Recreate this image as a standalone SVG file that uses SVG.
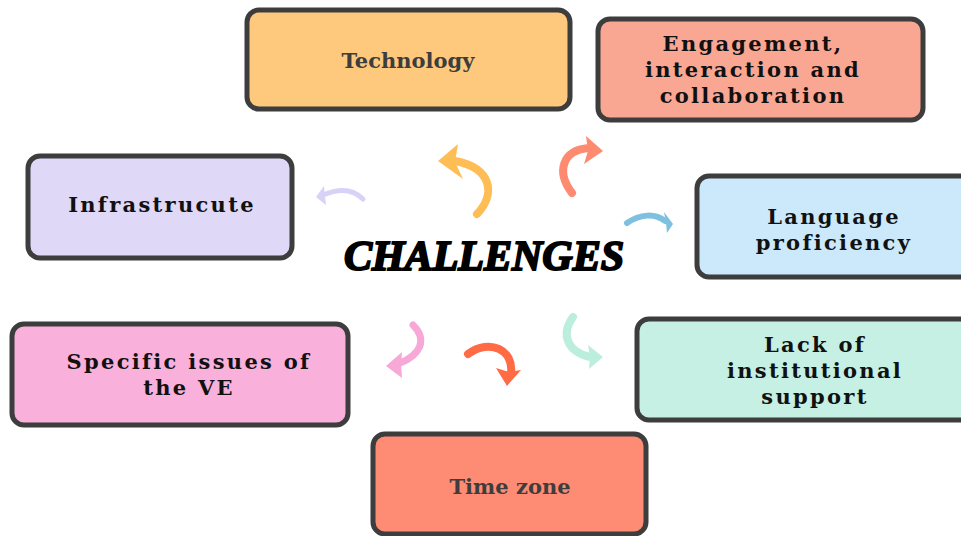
<svg xmlns="http://www.w3.org/2000/svg" width="961" height="536" viewBox="0 0 961 536">
<style>
.box{stroke:#3d3d3d;stroke-width:5}
.sp{font-family:"DejaVu Serif","Liberation Serif",serif;font-weight:bold;font-size:21px;letter-spacing:2.3px;fill:#111;text-anchor:middle}
.pl{font-family:"DejaVu Serif","Liberation Serif",serif;font-weight:bold;font-size:21px;fill:#3d3d3d;text-anchor:middle}
.body{fill:none;stroke-linecap:round}
</style>
<rect width="961" height="536" fill="#fff"/>
<g id="connectors">
  <g id="a-tech" fill="#FFBE55" stroke="#FFBE55"><path class="body" d="M477,214 C496,194 492,168 455,161" stroke-width="8"/><polygon stroke="none" points="438,161 458,144 455,162 463,179"/></g>
  <g id="a-eng" fill="#FE8A70" stroke="#FE8A70"><path class="body" d="M572,193 C556,172 562,150 589,148" stroke-width="8"/><polygon stroke="none" points="603,151 586,136 588,151 584,164"/></g>
  <g id="a-infra" fill="#D8D2F7" stroke="#D8D2F7"><path class="body" d="M363,199 C352,188 337,189 323,195" stroke-width="5"/><polygon stroke="none" points="316,197 324,186 325,196 326,205"/></g>
  <g id="a-lang" fill="#7EC0E0" stroke="#7EC0E0"><path class="body" d="M627,223 C640,214 655,213 665,221" stroke-width="6"/><polygon stroke="none" points="673,224 664,212 666,223 667,233"/></g>
  <g id="a-spec" fill="#F7A8D6" stroke="#F7A8D6"><path class="body" d="M413,325 C428,340 420,355 400,363" stroke-width="7"/><polygon stroke="none" points="386,366 402,352 401,364 402,378"/></g>
  <g id="a-time" fill="#FF6B45" stroke="#FF6B45"><path class="body" d="M468,354 C490,338 514,350 511,373" stroke-width="8"/><polygon stroke="none" points="507,386 496,368 509,372 521,370"/></g>
  <g id="a-lack" fill="#BCEEDD" stroke="#BCEEDD"><path class="body" d="M573,317 C560,335 568,352 590,357" stroke-width="8"/><polygon stroke="none" points="603,357 588,345 590,357 589,369"/></g>
</g>
<g id="center"><text x="484" y="270" font-family="'Liberation Serif','DejaVu Serif',serif" font-weight="bold" font-style="italic" font-size="43" text-anchor="middle" fill="#000" stroke="#000" stroke-width="2" textLength="280" lengthAdjust="spacingAndGlyphs">CHALLENGES</text></g>
<g id="n-technology"><rect class="box" x="247" y="10" width="323" height="99" rx="12" fill="#FEC97C"/><text class="pl" x="408" y="68">Technology</text></g>
<g id="n-engagement"><rect class="box" x="598" y="19" width="325" height="101" rx="12" fill="#F9A693"/><text class="sp" x="753" y="51">Engagement,</text><text class="sp" x="753" y="77">interaction and</text><text class="sp" x="753" y="103">collaboration</text></g>
<g id="n-infra"><rect class="box" x="28" y="156" width="264" height="102" rx="12" fill="#DFD8F7"/><text class="sp" x="162" y="212">Infrastrucute</text></g>
<g id="n-language"><rect class="box" x="697" y="176" width="275" height="101" rx="12" fill="#CCE9FB"/><text class="sp" x="834" y="224">Language</text><text class="sp" x="834" y="250">proficiency</text></g>
<g id="n-specific"><rect class="box" x="12" y="324" width="336" height="101" rx="12" fill="#F9B0DA"/><text class="sp" x="189" y="369">Specific issues of</text><text class="sp" x="189" y="395">the VE</text></g>
<g id="n-lack"><rect class="box" x="637" y="319" width="335" height="101" rx="12" fill="#C6F0E3"/><text class="sp" x="815" y="352">Lack of</text><text class="sp" x="815" y="378">institutional</text><text class="sp" x="815" y="404">support</text></g>
<g id="n-time"><rect class="box" x="373" y="434" width="273" height="100" rx="12" fill="#FE8B74"/><text class="pl" x="510" y="494">Time zone</text></g>
</svg>
